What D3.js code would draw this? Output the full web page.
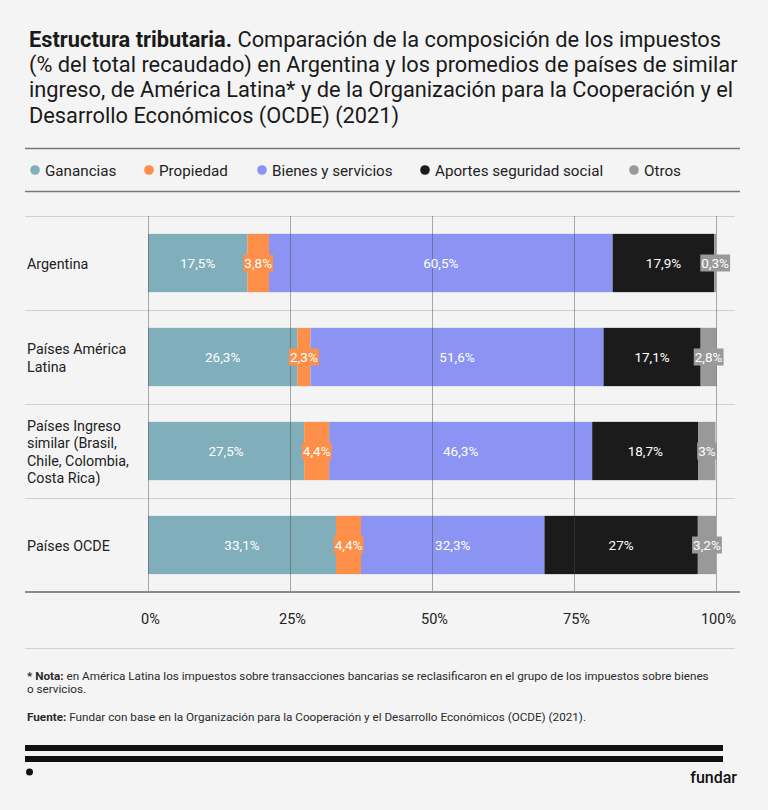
<!DOCTYPE html>
<html><head><meta charset="utf-8">
<script src="https://cdn.jsdelivr.net/npm/d3@7"></script>
<style>
html,body{margin:0;padding:0;background:#f4f4f4;}
svg{display:block;font-family:Roboto, "Noto Sans", sans-serif;}
</style></head>
<body>
<svg id="chart" width="768" height="810"></svg>
<script>
const categories = ["Argentina", "Países América Latina", "Países Ingreso similar (Brasil, Chile, Colombia, Costa Rica)", "Países OCDE"];
const categoryLines = [["Argentina"], ["Países América", "Latina"], ["Países Ingreso", "similar (Brasil,", "Chile, Colombia,", "Costa Rica)"], ["Países OCDE"]];
const seriesNames = ["Ganancias", "Propiedad", "Bienes y servicios", "Aportes seguridad social", "Otros"];
const ganancias = [17.5, 26.3, 27.5, 33.1];
const propiedad = [3.8, 2.3, 4.4, 4.4];
const bienes = [60.5, 51.6, 46.3, 32.3];
const aportes = [17.9, 17.1, 18.7, 27];
const otros = [0.3, 2.8, 3, 3.2];
const labelText = [["17,5%","3,8%","60,5%","17,9%","0,3%"],["26,3%","2,3%","51,6%","17,1%","2,8%"],["27,5%","4,4%","46,3%","18,7%","3%"],["33,1%","4,4%","32,3%","27%","3,2%"]];
const tickValues = [0, 25, 50, 75, 100];
const tickLabels = ["0%", "25%", "50%", "75%", "100%"];
const colors = ["#80aebb", "#fd8f48", "#8b94f2", "#1b1b1b", "#999999"];

const seriesArrays = [ganancias, propiedad, bienes, aportes, otros];
const table = categories.map((c, i) => {
  const row = {cat: c, idx: i};
  seriesNames.forEach((s, j) => row[s] = seriesArrays[j][i]);
  return row;
});

const svg = d3.select("#chart");
const FONT = "Roboto, 'Noto Sans', sans-serif";

// Title
const titleLines = [
  [["Estructura tributaria. ", 700], ["Comparación de la composición de los impuestos", 400]],
  [["(% del total recaudado) en Argentina y los promedios de países de similar", 400]],
  [["ingreso, de América Latina* y de la Organización para la Cooperación y el", 400]],
  [["Desarrollo Económicos (OCDE) (2021)", 400]]
];
const title = svg.append("text").attr("x", 29).attr("y", 47).attr("font-size", 21.8).attr("fill", "#1a1a1a");
titleLines.forEach((line, i) => {
  line.forEach((seg, k) => {
    const t = title.append("tspan").text(seg[0]).attr("font-weight", seg[1]);
    if (k === 0) t.attr("x", 29).attr("dy", i === 0 ? 0 : 25.2);
  });
});

// Legend
svg.append("line").attr("x1", 25).attr("x2", 740).attr("y1", 148.5).attr("y2", 148.5).attr("stroke", "#777").attr("stroke-width", 1.5);
svg.append("line").attr("x1", 25).attr("x2", 740).attr("y1", 191.5).attr("y2", 191.5).attr("stroke", "#777").attr("stroke-width", 1.5);
const legendX = [35, 149, 262, 425, 634];
const lg = svg.append("g");
seriesNames.forEach((s, i) => {
  lg.append("circle").attr("cx", legendX[i]).attr("cy", 170).attr("r", 4.8).attr("fill", colors[i]);
  lg.append("text").attr("x", legendX[i] + 10).attr("y", 175.5).attr("font-size", 15.2).attr("fill", "#222").text(s);
});

// Scales
const x = d3.scaleLinear().domain([0, 100]).range([148, 716]);
const y = d3.scaleBand().domain(categories).range([216, 592]).paddingInner(0.38).paddingOuter(0.19);

// Row separators
svg.append("g").selectAll("line").data(categories).join("line")
  .attr("x1", 25).attr("x2", 735)
  .attr("y1", d => y(d) - y.step() * 0.19 + 0.5)
  .attr("y2", d => y(d) - y.step() * 0.19 + 0.5)
  .attr("stroke", "#cfcfcf").attr("stroke-width", 1);

// Category labels
const catG = svg.append("g");
categories.forEach((c, i) => {
  const lines = categoryLines[i];
  const lh = 17.6;
  const cy = y(c) + y.bandwidth() / 2;
  const t = catG.append("text").attr("font-size", 14.3).attr("fill", "#222");
  lines.forEach((l, k) => {
    t.append("tspan").attr("x", 27).attr("y", cy - (lines.length - 1) * lh / 2 + k * lh + 6).text(l);
  });
});

// Bars
const stack = d3.stack().keys(seriesNames);
const stacked = stack(table);
const barsG = svg.append("g");
stacked.forEach((layer, j) => {
  barsG.selectAll(null).data(layer).join("rect")
    .attr("x", d => x(d[0]))
    .attr("width", d => Math.max(0, x(d[1]) - x(d[0])))
    .attr("y", d => y(d.data.cat))
    .attr("height", y.bandwidth())
    .attr("fill", colors[j]);
});

// Gridlines (on top)
svg.append("g").selectAll("line").data(tickValues).join("line")
  .attr("x1", d => Math.round(x(d)) + 0.5).attr("x2", d => Math.round(x(d)) + 0.5)
  .attr("y1", 216).attr("y2", 592)
  .attr("stroke", "#4a4a4a").attr("stroke-opacity", 0.45).attr("stroke-width", 1);

// Axis
const axis = d3.axisBottom(x).tickValues(tickValues).tickFormat((d, i) => tickLabels[i]).tickSize(0).tickPadding(22);
const axG = svg.append("g").attr("transform", "translate(2,592)").call(axis);
axG.select(".domain").remove();
axG.selectAll("text").attr("font-size", 14.5).attr("fill", "#222").attr("font-family", FONT);
svg.append("line").attr("x1", 25).attr("x2", 740).attr("y1", 592).attr("y2", 592).attr("stroke", "#8a8a8a").attr("stroke-width", 2);

// Value labels
const labG = svg.append("g");
stacked.forEach((layer, j) => {
  layer.forEach((d, i) => {
    const v = d[1] - d[0];
    const cx = x((d[0] + d[1]) / 2);
    const cy = y(d.data.cat) + y.bandwidth() / 2;
    const g = labG.append("g");
    const t = g.append("text").attr("x", cx).attr("y", cy + 5).attr("text-anchor", "middle")
      .attr("font-size", 13.5).attr("fill", "#fff").text(labelText[i][j]);
    if (v < 6) {
      const bb = t.node().getBBox();
      g.insert("rect", "text").attr("x", bb.x - 1).attr("y", cy - 8.5).attr("width", bb.width + 2).attr("height", 17).attr("fill", colors[j]);
    }
  });
});

// Bottom separator
svg.append("line").attr("x1", 25).attr("x2", 735).attr("y1", 648.5).attr("y2", 648.5).attr("stroke", "#d2d2d2").attr("stroke-width", 1);

// Notes
const n1 = svg.append("text").attr("x", 27).attr("y", 680).attr("font-size", 11.7).attr("fill", "#2a2a2a");
n1.append("tspan").attr("font-weight", 700).text("* Nota:");
n1.append("tspan").text(" en América Latina los impuestos sobre transacciones bancarias se reclasificaron en el grupo de los impuestos sobre bienes");
svg.append("text").attr("x", 27).attr("y", 693).attr("font-size", 11.7).attr("fill", "#2a2a2a").text("o servicios.");
const n2 = svg.append("text").attr("x", 27).attr("y", 721).attr("font-size", 11.7).attr("fill", "#2a2a2a");
n2.append("tspan").attr("font-weight", 700).text("Fuente:");
n2.append("tspan").text(" Fundar con base en la Organización para la Cooperación y el Desarrollo Económicos (OCDE) (2021).");

// Footer
svg.append("rect").attr("x", 25).attr("y", 745).attr("width", 698).attr("height", 6).attr("fill", "#111");
svg.append("rect").attr("x", 25).attr("y", 756).attr("width", 698).attr("height", 6).attr("fill", "#111");
svg.append("circle").attr("cx", 29.5).attr("cy", 772).attr("r", 3.5).attr("fill", "#111");
svg.append("text").attr("x", 737).attr("y", 783).attr("text-anchor", "end").attr("font-size", 16).attr("font-weight", 500).attr("fill", "#111").text("fundar");
</script>
</body></html>
